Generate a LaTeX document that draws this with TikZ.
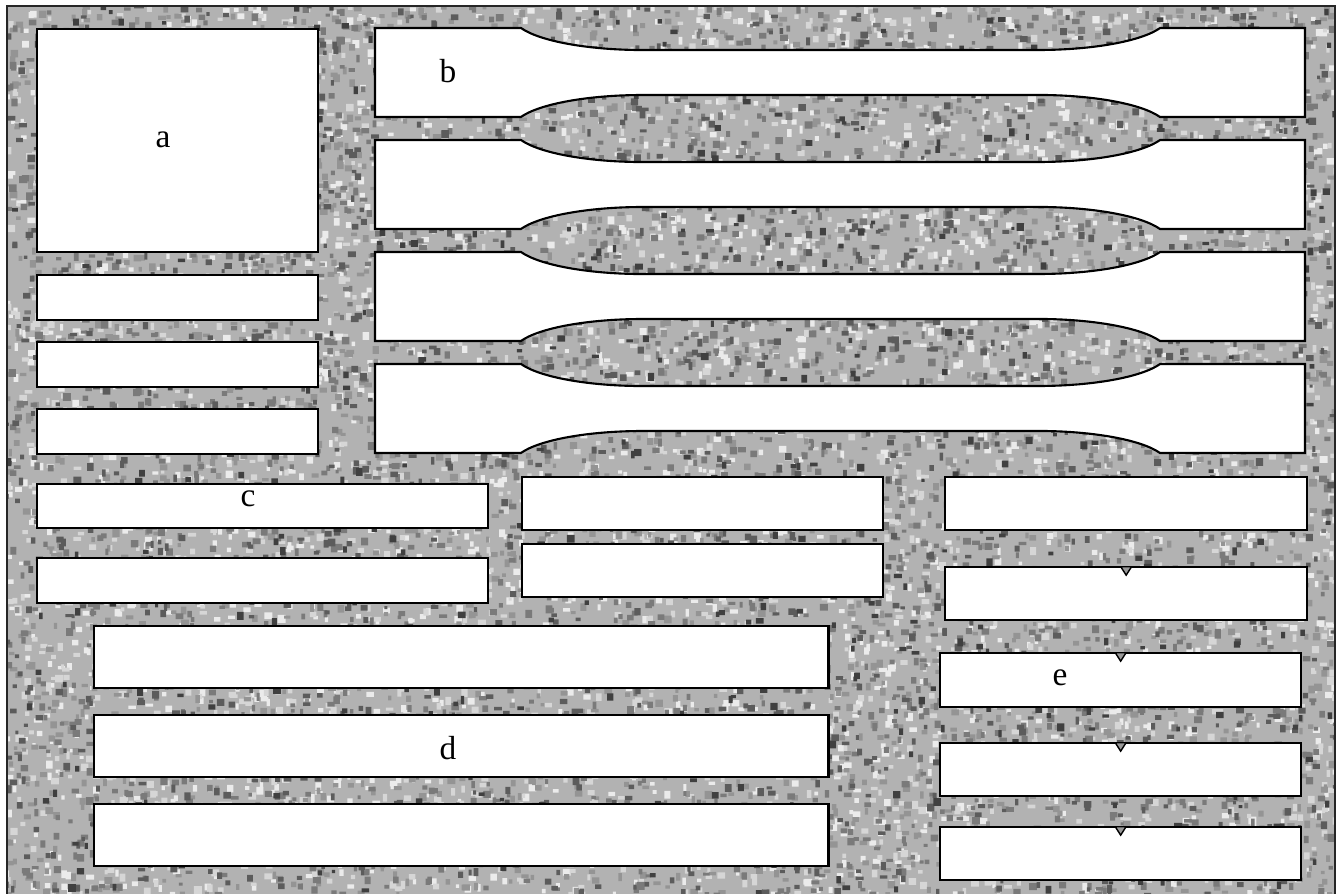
\documentclass[tikz,border=0pt]{standalone}
\usepackage{fontspec}
\setmainfont{Liberation Serif}
\usetikzlibrary{arrows.meta}

\tikzset{
  panel/.style={draw=black, fill=white, line width=0.6pt, inner sep=0pt, anchor=north west},
  bar/.style={draw=black, fill=white, line width=0.6pt},
  tag/.style={font=\fontsize{9.5}{11}\selectfont, inner sep=0pt},
  frame/.style={draw=black!85, line width=0.7pt},
  flowtip/.style={dash pattern=on 0pt off 1000pt,
    -{Triangle[length=1.05mm, width=1.3mm, fill=black!40, line width=0.4pt]},
    shorten >=-1.05mm}
}

\begin{document}
\begin{tikzpicture}[x=0.01cm, y=-0.01cm]
\useasboundingbox (0,0) rectangle (1336,894);
% granite background
\begin{scope}
\clip (7,6) rectangle (1335,894);
\fill[black!30] (7,6) rectangle (1335,894);
\pgfmathsetseed{4242}
\foreach \tone/\num in {8/2600, 16/2600, 42/3000, 52/3000, 64/1800, 75/700}
  \fill[black!\tone] \foreach \k in {1,...,\num}{(4+1332*rnd, 3+890*rnd) rectangle ++(3+5*rnd, 3+5*rnd)};
\end{scope}
\draw[frame] (7,900) -- (7,6) -- (1335,6) -- (1335,900);

% bars with the narrowed middle
\foreach \t in {28,140,252,364}
  \draw[bar] (375,\t) -- (521,\t)
    arc[start angle=160, end angle=90, x radius=130, y radius=33.5]
    -- (1038,\t+22)
    arc[start angle=90, end angle=20, x radius=130, y radius=33.5]
    -- (1305,\t) -- (1305,\t+89) -- (1160,\t+89)
    arc[start angle=340, end angle=270, x radius=130, y radius=33.5]
    -- (643,\t+67)
    arc[start angle=270, end angle=200, x radius=130, y radius=33.5]
    -- (375,\t+89) -- cycle;

% left column
\node[panel, minimum width=2.81cm, minimum height=2.23cm] (a) at (36,28) {};
\node[panel, minimum width=2.81cm, minimum height=0.45cm] (s1) at (36,274) {};
\node[panel, minimum width=2.81cm, minimum height=0.45cm] (s2) at (36,341) {};
\node[panel, minimum width=2.81cm, minimum height=0.45cm] (s3) at (36,408) {};

% c group
\node[panel, minimum width=4.51cm, minimum height=0.44cm] (c1) at (36,483) {};
\node[panel, minimum width=4.51cm, minimum height=0.45cm] (c2) at (36,557) {};

% middle pair
\node[panel, minimum width=3.61cm, minimum height=0.53cm] (m1) at (521,476) {};
\node[panel, minimum width=3.61cm, minimum height=0.53cm] (m2) at (521,543) {};

% d group
\node[panel, minimum width=7.34cm, minimum height=0.62cm] (d1) at (93,625) {};
\node[panel, minimum width=7.34cm, minimum height=0.62cm] (d2) at (93,714) {};
\node[panel, minimum width=7.34cm, minimum height=0.62cm] (d3) at (93,803) {};

% e column
\node[panel, minimum width=3.62cm, minimum height=0.53cm] (e1) at (944,476) {};
\node[panel, minimum width=3.62cm, minimum height=0.53cm] (e2) at (944,566) {};
\node[panel, minimum width=3.61cm, minimum height=0.54cm] (e3) at (939,652) {};
\node[panel, minimum width=3.61cm, minimum height=0.53cm] (e4) at (939,742) {};
\node[panel, minimum width=3.61cm, minimum height=0.53cm] (e5) at (939,826) {};

\draw[flowtip] (e1.south) -- (e2.north);
\draw[flowtip] (e3.north |- e2.south) -- (e3.north);
\draw[flowtip] (e3.south) -- (e4.north);
\draw[flowtip] (e4.south) -- (e5.north);

% labels
\node[tag] (la) at (163,140) {a};
\node[tag] (lb) at (448,71) {b};
\node[tag] (lc) at (248,499) {c};
\node[tag] (ld) at (448,748) {d};
\node[tag] (le) at (1060,678) {e};
\end{tikzpicture}
\end{document}
